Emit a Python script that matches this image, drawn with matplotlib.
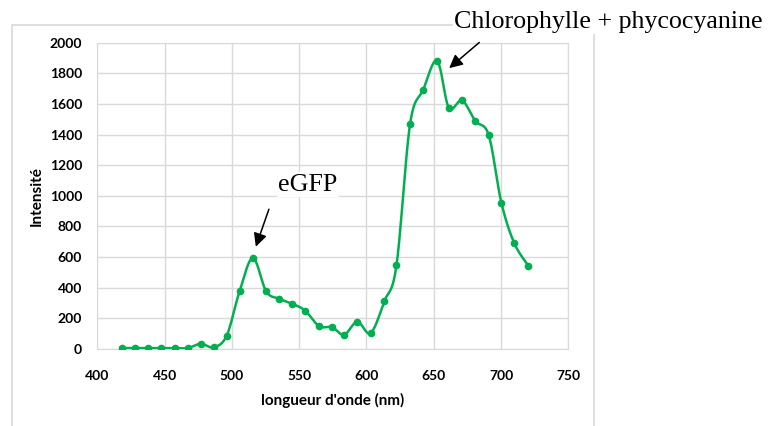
import numpy as np
import matplotlib.pyplot as plt
from matplotlib.patches import Rectangle

# spectre de fluorescence
longueur_onde = [418.6, 428.2, 437.9, 447.3, 457.7, 467.3, 477.0, 486.4, 496.1, 505.7,
                 515.6, 525.5, 535.1, 544.8, 554.5, 564.8, 574.5, 583.4, 593.2, 603.1,
                 613.4, 622.3, 632.4, 642.1, 652.5, 661.2, 671.0, 681.0, 690.9, 700.3,
                 709.9, 720.3]
intensite = [5, 5, 5, 5, 5, 5, 33, 10, 85, 375,
             593, 375, 327, 295, 249, 148, 141, 92, 177, 103,
             312, 545, 1468, 1691, 1882, 1575, 1623, 1488, 1394, 953,
             689, 543]

xticks = [400, 450, 500, 550, 600, 650, 700, 750]
yticks = [0, 200, 400, 600, 800, 1000, 1200, 1400, 1600, 1800, 2000]

VERT = "#00B050"
GRIS = "#d9d9d9"


def lissage(x, y, n=20):
    # courbe lissée type tableur (bezier, tension 1/6)
    x = np.asarray(x, float)
    y = np.asarray(y, float)
    P = np.column_stack([x, y])
    P = np.vstack([P[0], P, P[-1]])
    out = []
    t = np.linspace(0, 1, n)[:, None]
    for i in range(1, len(P) - 2):
        p0, p1 = P[i], P[i + 1]
        c1 = p0 + (P[i + 1] - P[i - 1]) / 6
        c2 = p1 - (P[i + 2] - P[i]) / 6
        seg = ((1 - t) ** 3) * p0 + 3 * ((1 - t) ** 2) * t * c1 + 3 * (1 - t) * t ** 2 * c2 + t ** 3 * p1
        out.append(seg if i == 1 else seg[1:])
    out = np.vstack(out)
    return out[:, 0], out[:, 1]


fig = plt.figure(figsize=(7.68, 4.26), dpi=100)
ax = fig.add_axes([0.1267, 0.1812, 0.6133, 0.7186])

# cadre du graphique, sous les axes
fig.patches.append(Rectangle((0.0152, -0.02), 0.7582, 0.9613, transform=fig.transFigure,
                             fill=False, edgecolor=GRIS, linewidth=1.2, zorder=-1))

xs, ys = lissage(longueur_onde, intensite)
ax.plot(xs, ys, color=VERT, linewidth=1.8, zorder=3)
ax.plot(longueur_onde, intensite, "o", color=VERT, markersize=4.5, zorder=4)

ax.set_xlim(400, 750)
ax.set_ylim(0, 2000)
ax.set_xticks(xticks)
ax.set_yticks(yticks)
ax.grid(True, color=GRIS, linewidth=1)
ax.set_axisbelow(True)
for s in ax.spines.values():
    s.set_color(GRIS)
ax.tick_params(length=0, labelsize=10)
ax.tick_params(axis="x", pad=15)
ax.tick_params(axis="y", pad=11)
for lab in ax.get_xticklabels() + ax.get_yticklabels():
    lab.set_fontfamily("Lato")
    lab.set_fontweight("bold")

ax.set_xlabel("longueur d'onde (nm)", fontfamily="Lato", fontweight="bold", fontsize=11, labelpad=8)
ax.set_ylabel("Intensité", fontfamily="Lato", fontweight="bold", fontsize=11, labelpad=4)

fl = dict(arrowstyle="-|>", color="black", lw=1.1, mutation_scale=20)
ax.annotate("", xy=(517.1, 650), xytext=(528.2, 929), arrowprops=fl, annotation_clip=False)
ax.annotate("", xy=(659.9, 1822), xytext=(685.4, 2013), arrowprops=fl, annotation_clip=False)
fond = dict(facecolor="white", edgecolor="none", pad=1)
ax.text(556.6, 1033, "eGFP", fontfamily="Liberation Serif", fontsize=18.7,
        ha="center", va="baseline", clip_on=False, bbox=fond, zorder=5)
ax.text(780, 2096, "Chlorophylle + phycocyanine", fontfamily="Liberation Serif", fontsize=18.7,
        ha="center", va="baseline", clip_on=False, bbox=fond, zorder=5)

fig.savefig("out.png", dpi=100)
